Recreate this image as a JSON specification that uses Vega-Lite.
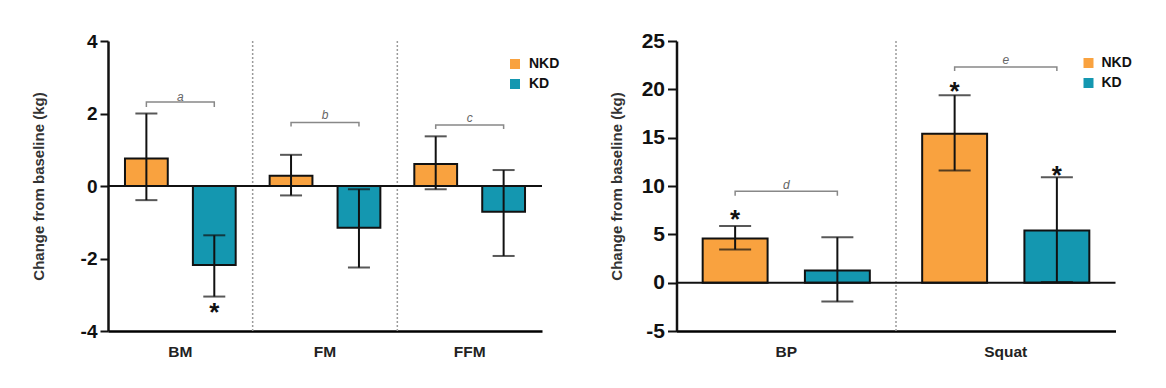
{
  "$schema": "https://vega.github.io/schema/vega-lite/v6.json",
  "padding": {"left": 31, "top": 30, "right": 5, "bottom": 5},
  "background": "white",
  "bounds": "flush",
  "spacing": 134.5,
  "config": {
    "font": "Liberation Sans",
    "view": {"stroke": null},
    "axis": {"grid": false},
    "axisX": {"labelAngle": 0, "ticks": false, "domainColor": "#000", "domainWidth": 2.5, "labelFontSize": 15.5, "labelFontWeight": "bold", "labelColor": "#222", "labelPadding": 13}
  },
  "datasets": {
    "bodyBars": [
      {"group": "BM", "diet": "NKD", "mean": 0.76, "lo": -0.39, "hi": 2.0},
      {"group": "BM", "diet": "KD", "mean": -2.18, "lo": -3.05, "hi": -1.36},
      {"group": "FM", "diet": "NKD", "mean": 0.28, "lo": -0.26, "hi": 0.86},
      {"group": "FM", "diet": "KD", "mean": -1.15, "lo": -2.25, "hi": -0.09},
      {"group": "FFM", "diet": "NKD", "mean": 0.61, "lo": -0.09, "hi": 1.37},
      {"group": "FFM", "diet": "KD", "mean": -0.71, "lo": -1.93, "hi": 0.44}
    ],
    "bodyStars": [
      {"group": "BM", "diet": "KD", "y": -3.3}
    ],
    "bodyBrackets": [
      {"group": "BM", "diet": "NKD", "k": 1, "y": 2.18},
      {"group": "BM", "diet": "NKD", "k": 2, "y": 2.32},
      {"group": "BM", "diet": "KD", "k": 3, "y": 2.32},
      {"group": "BM", "diet": "KD", "k": 4, "y": 2.18},
      {"group": "FM", "diet": "NKD", "k": 1, "y": 1.64},
      {"group": "FM", "diet": "NKD", "k": 2, "y": 1.75},
      {"group": "FM", "diet": "KD", "k": 3, "y": 1.75},
      {"group": "FM", "diet": "KD", "k": 4, "y": 1.64},
      {"group": "FFM", "diet": "NKD", "k": 1, "y": 1.57},
      {"group": "FFM", "diet": "NKD", "k": 2, "y": 1.68},
      {"group": "FFM", "diet": "KD", "k": 3, "y": 1.68},
      {"group": "FFM", "diet": "KD", "k": 4, "y": 1.57}
    ],
    "bodyLetters": [
      {"group": "BM", "label": "a", "y": 2.46},
      {"group": "FM", "label": "b", "y": 1.96},
      {"group": "FFM", "label": "c", "y": 1.88}
    ],
    "bodyDividers": [
      {"group": "BM"},
      {"group": "FM"}
    ],
    "strBars": [
      {"group": "BP", "diet": "NKD", "mean": 4.57, "lo": 3.43, "hi": 5.85},
      {"group": "BP", "diet": "KD", "mean": 1.27, "lo": -1.96, "hi": 4.7},
      {"group": "Squat", "diet": "NKD", "mean": 15.4, "lo": 11.6, "hi": 19.4},
      {"group": "Squat", "diet": "KD", "mean": 5.4, "lo": 0.07, "hi": 10.9}
    ],
    "strStars": [
      {"group": "BP", "diet": "NKD", "y": 7.2},
      {"group": "Squat", "diet": "NKD", "y": 20.5},
      {"group": "Squat", "diet": "KD", "y": 11.8}
    ],
    "strBrackets": [
      {"group": "BP", "diet": "NKD", "k": 1, "y": 9.0},
      {"group": "BP", "diet": "NKD", "k": 2, "y": 9.45},
      {"group": "BP", "diet": "KD", "k": 3, "y": 9.45},
      {"group": "BP", "diet": "KD", "k": 4, "y": 9.0},
      {"group": "Squat", "diet": "NKD", "k": 1, "y": 21.9},
      {"group": "Squat", "diet": "NKD", "k": 2, "y": 22.3},
      {"group": "Squat", "diet": "KD", "k": 3, "y": 22.3},
      {"group": "Squat", "diet": "KD", "k": 4, "y": 21.9}
    ],
    "strLetters": [
      {"group": "BP", "label": "d", "y": 10.1},
      {"group": "Squat", "label": "e", "y": 23.0}
    ],
    "strDividers": [
      {"group": "BP"}
    ],
    "zero": [
      {"v": 0}
    ]
  },
  "resolve": {"scale": {"color": "independent", "x": "independent", "y": "independent", "xOffset": "independent"}, "legend": {"color": "independent"}},
  "hconcat": [
    {
      "width": 434,
      "height": 290,
      "layer": [
        {
          "data": {"name": "bodyDividers"},
          "mark": {"type": "rule", "color": "#9a9a9a", "strokeWidth": 1.5, "strokeDash": [2, 2]},
          "encoding": {"x": {"field": "group", "type": "nominal", "bandPosition": 1, "axis": {"title": null}}}
        },
        {
          "data": {"name": "bodyBars"},
          "mark": {"type": "bar", "stroke": "#111", "strokeWidth": 2},
          "encoding": {
            "x": {
              "field": "group", "type": "nominal",
              "scale": {"type": "band", "domain": ["BM", "FM", "FFM"], "paddingInner": 0, "paddingOuter": 0},
              "axis": {"title": null}
            },
            "xOffset": {"field": "diet", "type": "nominal", "scale": {"domain": ["NKD", "KD"], "paddingInner": 0.37, "paddingOuter": 0.25}},
            "y": {
              "field": "mean", "type": "quantitative",
              "scale": {"domain": [-4, 4], "nice": false},
              "axis": {"values": [-4, -2, 0, 2, 4], "labelExpr": "'' + datum.value", "title": "Change from baseline (kg)", "titleFontSize": 15, "titleFontWeight": "bold", "titleColor": "#333", "titlePadding": 33.5, "labelFontSize": 19, "labelFontWeight": "bold", "labelColor": "#111", "labelPadding": 3, "tickSize": 8, "tickWidth": 2, "tickColor": "#111", "domainColor": "#111", "domainWidth": 2.5}
            },
            "color": {
              "field": "diet", "type": "nominal",
              "scale": {"domain": ["NKD", "KD"], "range": ["#F9A23F", "#1497B0"]},
              "legend": {"orient": "none", "legendX": 400, "legendY": 16, "title": null, "symbolType": "square", "symbolSize": 100, "symbolStrokeWidth": 0, "labelFontSize": 14, "labelFontWeight": "bold", "labelColor": "#111", "rowPadding": 6, "padding": 0, "labelOffset": 7}
            }
          }
        },
        {
          "data": {"name": "zero"},
          "mark": {"type": "rule", "color": "#111", "strokeWidth": 2},
          "encoding": {"y": {"field": "v", "type": "quantitative"}}
        },
        {
          "data": {"name": "bodyBars"},
          "mark": {"type": "rule", "color": "#111", "strokeWidth": 2},
          "encoding": {
            "x": {"field": "group", "type": "nominal"},
            "xOffset": {"field": "diet", "type": "nominal"},
            "y": {"field": "lo", "type": "quantitative"},
            "y2": {"field": "hi"}
          }
        },
        {
          "data": {"name": "bodyBars"},
          "mark": {"type": "tick", "orient": "horizontal", "color": "#111", "size": 22, "thickness": 2},
          "encoding": {
            "x": {"field": "group", "type": "nominal"},
            "xOffset": {"field": "diet", "type": "nominal"},
            "y": {"field": "lo", "type": "quantitative"}
          }
        },
        {
          "data": {"name": "bodyBars"},
          "mark": {"type": "tick", "orient": "horizontal", "color": "#111", "size": 22, "thickness": 2},
          "encoding": {
            "x": {"field": "group", "type": "nominal"},
            "xOffset": {"field": "diet", "type": "nominal"},
            "y": {"field": "hi", "type": "quantitative"}
          }
        },
        {
          "data": {"name": "bodyBrackets"},
          "mark": {"type": "line", "color": "#888", "strokeWidth": 1.5},
          "encoding": {
            "x": {"field": "group", "type": "nominal"},
            "xOffset": {"field": "diet", "type": "nominal"},
            "y": {"field": "y", "type": "quantitative"},
            "order": {"field": "k"},
            "detail": {"field": "group"}
          }
        },
        {
          "data": {"name": "bodyLetters"},
          "mark": {"type": "text", "fontStyle": "italic", "fontSize": 12, "color": "#666", "baseline": "middle"},
          "encoding": {
            "x": {"field": "group", "type": "nominal"},
            "y": {"field": "y", "type": "quantitative"},
            "text": {"field": "label"}
          }
        },
        {
          "data": {"name": "bodyStars"},
          "mark": {"type": "text", "fontSize": 26, "fontWeight": "bold", "color": "#111", "baseline": "middle", "dy": 7},
          "encoding": {
            "x": {"field": "group", "type": "nominal"},
            "xOffset": {"field": "diet", "type": "nominal"},
            "y": {"field": "y", "type": "quantitative"},
            "text": {"value": "*"}
          }
        }
      ]
    },
    {
      "width": 439,
      "height": 290,
      "layer": [
        {
          "data": {"name": "strDividers"},
          "mark": {"type": "rule", "color": "#9a9a9a", "strokeWidth": 1.5, "strokeDash": [2, 2]},
          "encoding": {"x": {"field": "group", "type": "nominal", "bandPosition": 1, "axis": {"title": null}}}
        },
        {
          "data": {"name": "strBars"},
          "mark": {"type": "bar", "stroke": "#111", "strokeWidth": 2},
          "encoding": {
            "x": {
              "field": "group", "type": "nominal",
              "scale": {"type": "band", "domain": ["BP", "Squat"], "paddingInner": 0, "paddingOuter": 0},
              "axis": {"title": null}
            },
            "xOffset": {"field": "diet", "type": "nominal", "scale": {"domain": ["NKD", "KD"], "paddingInner": 0.365, "paddingOuter": 0.256}},
            "y": {
              "field": "mean", "type": "quantitative",
              "scale": {"domain": [-5, 25], "nice": false},
              "axis": {"values": [-5, 0, 5, 10, 15, 20, 25], "labelExpr": "'' + datum.value", "title": "Change from baseline (kg)", "titleFontSize": 15, "titleFontWeight": "bold", "titleColor": "#333", "titlePadding": 17, "labelFontSize": 21, "labelFontWeight": "bold", "labelColor": "#111", "labelPadding": 3, "tickSize": 9, "tickWidth": 2, "tickColor": "#111", "domainColor": "#111", "domainWidth": 2.5}
            },
            "color": {
              "field": "diet", "type": "nominal",
              "scale": {"domain": ["NKD", "KD"], "range": ["#F9A23F", "#1497B0"]},
              "legend": {"orient": "none", "legendX": 405, "legendY": 15, "title": null, "symbolType": "square", "symbolSize": 100, "symbolStrokeWidth": 0, "labelFontSize": 14, "labelFontWeight": "bold", "labelColor": "#111", "rowPadding": 6, "padding": 0, "labelOffset": 6}
            }
          }
        },
        {
          "data": {"name": "zero"},
          "mark": {"type": "rule", "color": "#111", "strokeWidth": 2},
          "encoding": {"y": {"field": "v", "type": "quantitative"}}
        },
        {
          "data": {"name": "strBars"},
          "mark": {"type": "rule", "color": "#111", "strokeWidth": 2},
          "encoding": {
            "x": {"field": "group", "type": "nominal"},
            "xOffset": {"field": "diet", "type": "nominal"},
            "y": {"field": "lo", "type": "quantitative"},
            "y2": {"field": "hi"}
          }
        },
        {
          "data": {"name": "strBars"},
          "mark": {"type": "tick", "orient": "horizontal", "color": "#111", "size": 32, "thickness": 2},
          "encoding": {
            "x": {"field": "group", "type": "nominal"},
            "xOffset": {"field": "diet", "type": "nominal"},
            "y": {"field": "lo", "type": "quantitative"}
          }
        },
        {
          "data": {"name": "strBars"},
          "mark": {"type": "tick", "orient": "horizontal", "color": "#111", "size": 32, "thickness": 2},
          "encoding": {
            "x": {"field": "group", "type": "nominal"},
            "xOffset": {"field": "diet", "type": "nominal"},
            "y": {"field": "hi", "type": "quantitative"}
          }
        },
        {
          "data": {"name": "strBrackets"},
          "mark": {"type": "line", "color": "#888", "strokeWidth": 1.5},
          "encoding": {
            "x": {"field": "group", "type": "nominal"},
            "xOffset": {"field": "diet", "type": "nominal"},
            "y": {"field": "y", "type": "quantitative"},
            "order": {"field": "k"},
            "detail": {"field": "group"}
          }
        },
        {
          "data": {"name": "strLetters"},
          "mark": {"type": "text", "fontStyle": "italic", "fontSize": 12, "color": "#666", "baseline": "middle"},
          "encoding": {
            "x": {"field": "group", "type": "nominal"},
            "y": {"field": "y", "type": "quantitative"},
            "text": {"field": "label"}
          }
        },
        {
          "data": {"name": "strStars"},
          "mark": {"type": "text", "fontSize": 26, "fontWeight": "bold", "color": "#111", "baseline": "middle", "dy": 7},
          "encoding": {
            "x": {"field": "group", "type": "nominal"},
            "xOffset": {"field": "diet", "type": "nominal"},
            "y": {"field": "y", "type": "quantitative"},
            "text": {"value": "*"}
          }
        }
      ]
    }
  ]
}
